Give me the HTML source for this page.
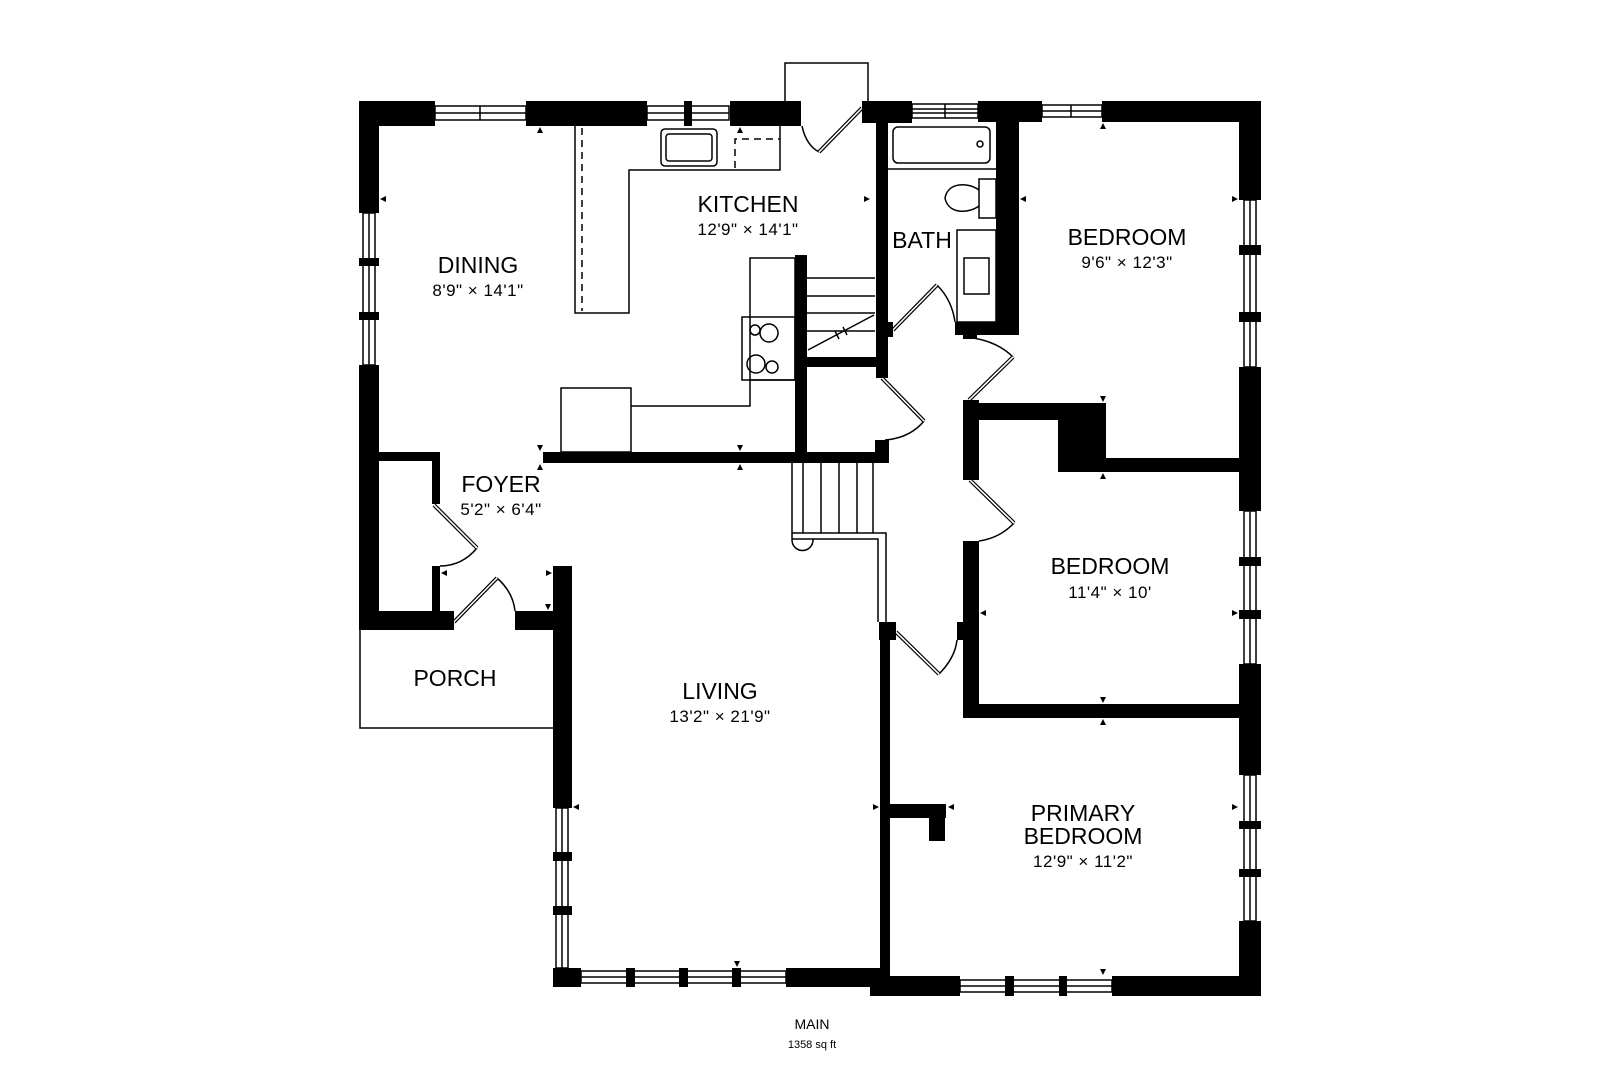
<!DOCTYPE html>
<html><head><meta charset="utf-8"><style>
html,body{margin:0;padding:0;background:#fff;}
svg{display:block;}
text{font-family:"Liberation Sans",sans-serif;fill:#000;text-anchor:middle;}
.l{font-size:23px;}
.d{font-size:17px;letter-spacing:0.5px;}
</style></head><body>
<svg width="1620" height="1080" viewBox="0 0 1620 1080" xmlns="http://www.w3.org/2000/svg">
<rect width="1620" height="1080" fill="#fff"/>
<g fill="none" stroke="#000" stroke-width="1.5">
<rect x="435" y="106" width="91" height="14"/><line x1="435" y1="113" x2="526" y2="113"/><line x1="480" y1="106" x2="480" y2="120"/>
<rect x="647" y="106" width="82" height="14"/><line x1="647" y1="113" x2="729" y2="113"/>
<rect x="912" y="104" width="66" height="14"/><line x1="912" y1="109" x2="978" y2="109"/><line x1="912" y1="113" x2="978" y2="113"/><line x1="945" y1="104" x2="945" y2="118"/>
<rect x="1042" y="105" width="60" height="12"/><line x1="1042" y1="111" x2="1102" y2="111"/><line x1="1071" y1="105" x2="1071" y2="117"/>
<rect x="363" y="213" width="12" height="152"/><line x1="369" y1="213" x2="369" y2="365"/>
<rect x="556" y="808" width="12" height="160"/><line x1="562" y1="808" x2="562" y2="968"/>
<rect x="581" y="971" width="205" height="12"/><line x1="581" y1="977" x2="786" y2="977"/>
<rect x="960" y="980" width="152" height="12"/><line x1="960" y1="986" x2="1112" y2="986"/>
<rect x="1244" y="200" width="12" height="167"/><line x1="1250" y1="200" x2="1250" y2="367"/>
<rect x="1244" y="511" width="12" height="153"/><line x1="1250" y1="511" x2="1250" y2="664"/>
<rect x="1244" y="775" width="12" height="146"/><line x1="1250" y1="775" x2="1250" y2="921"/>
<polyline points="785,101 785,63 868,63 868,101"/>
<polyline points="360,630 360,728 553,728"/>
<polyline points="575,126 575,313 629,313 629,170 780,170 780,126"/>
<line x1="582" y1="128" x2="582" y2="311" stroke-dasharray="7,5"/>
<rect x="661" y="129" width="56" height="37" rx="4"/><rect x="666" y="134" width="46" height="27" rx="3"/>
<polyline points="735,168 735,139 780,139" stroke-dasharray="7,5"/>
<rect x="750" y="258" width="45" height="122"/>
<rect x="742" y="317" width="53" height="63"/>
<circle cx="755" cy="330" r="5"/><circle cx="769" cy="333" r="9"/><circle cx="756" cy="364" r="9"/><circle cx="772" cy="367" r="6"/>
<polyline points="750,380 750,406 631,406"/>
<rect x="561" y="388" width="70" height="64"/>
<line x1="807" y1="278" x2="875" y2="278"/><line x1="807" y1="296" x2="875" y2="296"/><line x1="807" y1="313" x2="875" y2="313"/><line x1="807" y1="331" x2="875" y2="331"/>
<line x1="808" y1="350" x2="874" y2="315"/><line x1="835" y1="331" x2="839" y2="339"/><line x1="843" y1="327" x2="847" y2="335"/>
<line x1="792" y1="463" x2="792" y2="540"/>
<line x1="803" y1="463" x2="803" y2="533"/><line x1="821" y1="463" x2="821" y2="533"/><line x1="839" y1="463" x2="839" y2="533"/><line x1="857" y1="463" x2="857" y2="533"/><line x1="873" y1="463" x2="873" y2="533"/>
<polyline points="792,533 886,533 886,622"/>
<polyline points="792,539 878,539 878,622"/>
<path d="M792,540 A10,10 0 0 0 813,540 L813,539"/>
<rect x="893" y="127" width="97" height="36" rx="5"/><circle cx="980" cy="144" r="3"/>
<line x1="887" y1="169" x2="996" y2="169"/>
<rect x="979" y="179" width="17" height="39"/>
<path d="M979,190 C968,182 948,182 945,198 C948,214 968,214 979,206"/>
<rect x="957" y="230" width="39" height="92"/>
<rect x="964" y="258" width="25" height="36"/>
<path d="M802,126 Q806,145 819,152"/>
<path d="M937,285 Q952,300 955,322"/>
<path d="M973,338 Q998,342 1013,357"/>
<path d="M924,421 Q910,438 885,440"/>
<path d="M1014,523 Q1000,538 979,541"/>
<path d="M939,674 Q955,658 957,640"/>
<path d="M477,548 Q462,566 440,566"/>
<path d="M497,578 Q513,592 515,611"/>
</g>
<g stroke="#000" stroke-width="4">
<line x1="862" y1="108" x2="819" y2="152"/>
<line x1="893" y1="330" x2="937" y2="285"/>
<line x1="969" y1="400" x2="1013" y2="357"/>
<line x1="882" y1="378" x2="924" y2="421"/>
<line x1="970" y1="480" x2="1014" y2="523"/>
<line x1="896" y1="632" x2="939" y2="674"/>
<line x1="434" y1="505" x2="477" y2="548"/>
<line x1="454" y1="622" x2="497" y2="578"/>
</g>
<g stroke="#fff" stroke-width="1.6">
<line x1="862" y1="108" x2="819" y2="152"/>
<line x1="893" y1="330" x2="937" y2="285"/>
<line x1="969" y1="400" x2="1013" y2="357"/>
<line x1="882" y1="378" x2="924" y2="421"/>
<line x1="970" y1="480" x2="1014" y2="523"/>
<line x1="896" y1="632" x2="939" y2="674"/>
<line x1="434" y1="505" x2="477" y2="548"/>
<line x1="454" y1="622" x2="497" y2="578"/>
</g>
<g fill="#000">
<rect x="359" y="101" width="76" height="25"/>
<rect x="526" y="101" width="121" height="25"/>
<rect x="684" y="101" width="8" height="25"/>
<rect x="730" y="101" width="71" height="25"/>
<rect x="862" y="101" width="50" height="22"/>
<rect x="978" y="101" width="64" height="21"/>
<rect x="1102" y="101" width="159" height="21"/>
<rect x="359" y="101" width="20" height="112"/>
<rect x="359" y="258" width="20" height="8"/>
<rect x="359" y="312" width="20" height="8"/>
<rect x="359" y="365" width="20" height="265"/>
<rect x="359" y="611" width="95" height="19"/>
<rect x="379" y="452" width="61" height="9"/>
<rect x="432" y="452" width="8" height="52"/>
<rect x="432" y="566" width="8" height="45"/>
<rect x="515" y="611" width="45" height="19"/>
<rect x="553" y="566" width="19" height="242"/>
<rect x="553" y="852" width="19" height="9"/>
<rect x="553" y="906" width="19" height="9"/>
<rect x="553" y="968" width="28" height="19"/>
<rect x="626" y="968" width="9" height="19"/>
<rect x="679" y="968" width="9" height="19"/>
<rect x="732" y="968" width="9" height="19"/>
<rect x="786" y="968" width="100" height="19"/>
<rect x="870" y="976" width="90" height="20"/>
<rect x="1005" y="976" width="9" height="20"/>
<rect x="1059" y="976" width="8" height="20"/>
<rect x="1112" y="976" width="149" height="20"/>
<rect x="880" y="622" width="10" height="365"/>
<rect x="879" y="622" width="17" height="18"/>
<rect x="957" y="622" width="8" height="18"/>
<rect x="889" y="804" width="57" height="14"/>
<rect x="929" y="804" width="16" height="37"/>
<rect x="1239" y="101" width="22" height="99"/>
<rect x="1239" y="245" width="22" height="10"/>
<rect x="1239" y="312" width="22" height="10"/>
<rect x="1239" y="367" width="22" height="144"/>
<rect x="1239" y="557" width="22" height="9"/>
<rect x="1239" y="610" width="22" height="9"/>
<rect x="1239" y="664" width="22" height="111"/>
<rect x="1239" y="821" width="22" height="8"/>
<rect x="1239" y="869" width="22" height="8"/>
<rect x="1239" y="921" width="22" height="75"/>
<rect x="963" y="403" width="143" height="17"/>
<rect x="1058" y="403" width="48" height="69"/>
<rect x="1058" y="458" width="183" height="14"/>
<rect x="963" y="400" width="16" height="80"/>
<rect x="963" y="541" width="16" height="177"/>
<rect x="963" y="704" width="278" height="14"/>
<rect x="876" y="101" width="12" height="277"/>
<rect x="876" y="322" width="17" height="15"/>
<rect x="996" y="101" width="23" height="234"/>
<rect x="955" y="322" width="64" height="13"/>
<rect x="963" y="335" width="14" height="4"/>
<rect x="543" y="452" width="346" height="11"/>
<rect x="875" y="440" width="14" height="23"/>
<rect x="795" y="255" width="12" height="197"/>
<rect x="807" y="357" width="69" height="10"/>
</g>
<g fill="#000">
<path d="M540,127 l-3,6 h6z"/><path d="M740,127 l-3,6 h6z"/>
<path d="M380,199 l6,-3 v6z"/><path d="M870,199 l-6,-3 v6z"/>
<path d="M540,451 l-3,-6 h6z"/><path d="M540,464 l-3,6 h6z"/>
<path d="M740,451 l-3,-6 h6z"/><path d="M740,464 l-3,6 h6z"/>
<path d="M1020,199 l6,-3 v6z"/><path d="M1238,199 l-6,-3 v6z"/>
<path d="M1103,123 l-3,6 h6z"/><path d="M1103,402 l-3,-6 h6z"/><path d="M1103,473 l-3,6 h6z"/>
<path d="M980,613 l6,-3 v6z"/><path d="M1238,613 l-6,-3 v6z"/>
<path d="M1103,703 l-3,-6 h6z"/><path d="M1103,719 l-3,6 h6z"/>
<path d="M1103,975 l-3,-6 h6z"/>
<path d="M890,807 l-6,-3 v6z"/><path d="M948,807 l6,-3 v6z"/><path d="M1238,807 l-6,-3 v6z"/>
<path d="M573,807 l6,-3 v6z"/><path d="M879,807 l-6,-3 v6z"/>
<path d="M737,967 l-3,-6 h6z"/>
<path d="M441,573 l6,-3 v6z"/><path d="M552,573 l-6,-3 v6z"/><path d="M548,610 l-3,-6 h6z"/>
</g>
<text class="l" x="478" y="273">DINING</text>
<text class="d" x="478" y="296">8'9" × 14'1"</text>
<text class="l" x="748" y="212">KITCHEN</text>
<text class="d" x="748" y="235">12'9" × 14'1"</text>
<text class="l" x="922" y="248">BATH</text>
<text class="l" x="1127" y="245">BEDROOM</text>
<text class="d" x="1127" y="268">9'6" × 12'3"</text>
<text class="l" x="501" y="492">FOYER</text>
<text class="d" x="501" y="515">5'2" × 6'4"</text>
<text class="l" x="455" y="686">PORCH</text>
<text class="l" x="720" y="699">LIVING</text>
<text class="d" x="720" y="722">13'2" × 21'9"</text>
<text class="l" x="1110" y="574">BEDROOM</text>
<text class="d" x="1110" y="598">11'4" × 10'</text>
<text class="l" x="1083" y="821">PRIMARY</text>
<text class="l" x="1083" y="844">BEDROOM</text>
<text class="d" x="1083" y="867">12'9" × 11'2"</text>
<text x="812" y="1029" style="font-size:14px">MAIN</text>
<text x="812" y="1048" style="font-size:11px">1358 sq ft</text>
</svg>
</body></html>
